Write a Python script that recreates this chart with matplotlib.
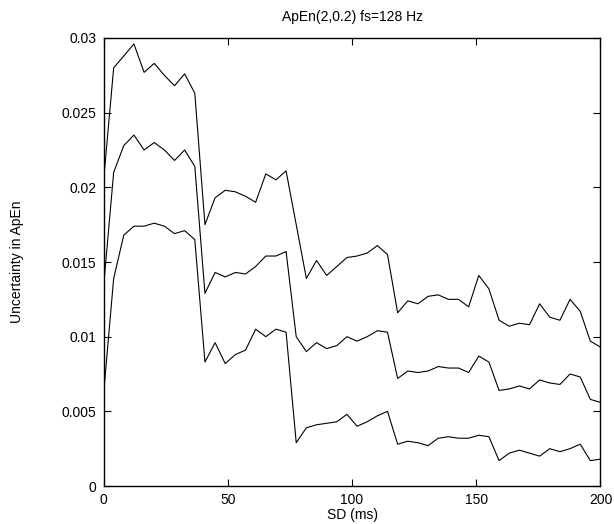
import numpy as np
import matplotlib
matplotlib.use("Agg")
from matplotlib import pyplot as plt

plt.rcParams['font.family'] = ['Liberation Sans', 'DejaVu Sans']

# SD values (ms), 50 evenly spaced points
sd = np.linspace(0, 200, 50)

upper = [0.0204, 0.0280, 0.0288, 0.0296, 0.0277, 0.0283, 0.0275, 0.0268, 0.0276, 0.0263,
         0.0175, 0.0193, 0.0198, 0.0197, 0.0194, 0.0190, 0.0209, 0.0205, 0.0211, 0.0175,
         0.0139, 0.0151, 0.0141, 0.0147, 0.0153, 0.0154, 0.0156, 0.0161, 0.0155, 0.0116,
         0.0124, 0.0122, 0.0127, 0.0128, 0.0125, 0.0125, 0.0120, 0.0141, 0.0132, 0.0111,
         0.0107, 0.0109, 0.0108, 0.0122, 0.0113, 0.0111, 0.0125, 0.0117, 0.0097, 0.0093]

middle = [0.0133, 0.0210, 0.0228, 0.0235, 0.0225, 0.0230, 0.0225, 0.0218, 0.0225, 0.0214,
          0.0129, 0.0143, 0.0140, 0.0143, 0.0142, 0.0147, 0.0154, 0.0154, 0.0157, 0.0100,
          0.0090, 0.0096, 0.0092, 0.0094, 0.0100, 0.0097, 0.0100, 0.0104, 0.0103, 0.0072,
          0.0077, 0.0076, 0.0077, 0.0080, 0.0079, 0.0079, 0.0076, 0.0087, 0.0083, 0.0064,
          0.0065, 0.0067, 0.0065, 0.0071, 0.0069, 0.0068, 0.0075, 0.0073, 0.0058, 0.0056]

lower = [0.0061, 0.0139, 0.0168, 0.0174, 0.0174, 0.0176, 0.0174, 0.0169, 0.0171, 0.0165,
         0.0083, 0.0096, 0.0082, 0.0088, 0.0091, 0.0105, 0.0100, 0.0105, 0.0103, 0.0029,
         0.0039, 0.0041, 0.0042, 0.0043, 0.0048, 0.0040, 0.0043, 0.0047, 0.0050, 0.0028,
         0.0030, 0.0029, 0.0027, 0.0032, 0.0033, 0.0032, 0.0032, 0.0034, 0.0033, 0.0017,
         0.0022, 0.0024, 0.0022, 0.0020, 0.0025, 0.0023, 0.0025, 0.0028, 0.0017, 0.0018]

x_ticks = [0, 50, 100, 150, 200]
y_ticks = [0, 0.005, 0.01, 0.015, 0.02, 0.025, 0.03]
y_tick_labels = ['0', '0.005', '0.01', '0.015', '0.02', '0.025', '0.03']

fig = plt.figure(figsize=(6.14, 5.24), dpi=100)
ax = fig.add_axes([0.1686, 0.0725, 0.8094, 0.855])

for series in (upper, middle, lower):
    ax.plot(sd, series, color='black', linewidth=0.8)

ax.set_xlim(0, 200)
ax.set_ylim(0, 0.03)
ax.set_xticks(x_ticks)
ax.set_xticklabels([str(t) for t in x_ticks])
ax.set_yticks(y_ticks)
ax.set_yticklabels(y_tick_labels)
ax.tick_params(direction='in', length=5, width=0.8, top=True, right=True,
               labelsize=10, pad=5)
for spine in ax.spines.values():
    spine.set_linewidth(1.0)

ax.set_xlabel('SD (ms)', fontsize=10, labelpad=1)
ax.set_ylabel('Uncertainty in ApEn', fontsize=10, labelpad=27)
ax.set_title('ApEn(2,0.2) fs=128 Hz', fontsize=10, pad=12)

fig.savefig('out.png', dpi=100)
